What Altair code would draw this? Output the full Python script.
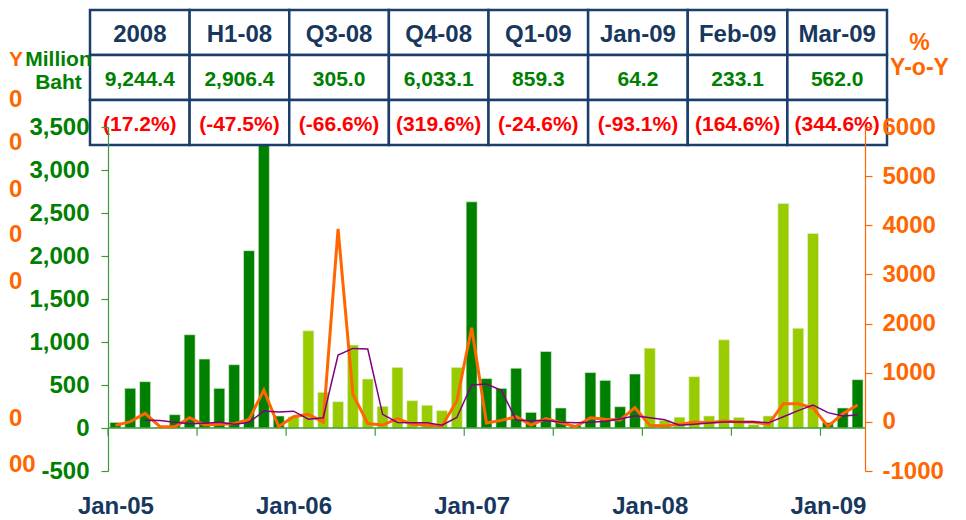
import altair as alt
import pandas as pd

# ---------------- data ----------------
years = ["2005", "2006", "2007", "2008", "2009"]
exports = [
    65, 461, 539, 8, 155, 1085, 802, 461, 736, 2062, 3330, 140,
    131, 1130, 415, 306, 965, 570, 252, 705, 318, 264, 202, 705,
    2630, 575, 461, 695, 182, 890, 233, 37, 645, 554, 248, 628,
    928, 88, 126, 597, 140, 1025, 124, 41, 140, 2610, 1160, 2263,
    64.2, 233.1, 562.0,
]
yoy = [
    -71, 4, 173, -98, -98, 85, -65, -51, -37, 51, 646, -95,
    105, 152, -4, 3927, 559, -33, -65, 65, -51, -71, -85, 423,
    1915, -25, 30, 105, -65, 65, -17, -98, 85, 51, 37, 288,
    -71, -85, -51, -4, -17, 17, -4, -4, -51, 369, 369, 288,
    -93.1, 164.6, 344.6,
]
# 3-month average line (starts Mar-05)
yoy_avg = [
    35, 26, -8, -37, -26, -10, -51, -12, 220, 200,
    218, 54, 84, 1358, 1494, 1483, 153, -11, -17, -19, -69, 89,
    751, 771, 640, 37, 23, 35, -6, -17, -10, 13, 58, 125,
    85, 44, -69, -47, -24, -1, -1, 3, -20, 105, 229, 342,
    188, 120, 139,
]
x_labels = ["Jan-05", "Jan-06", "Jan-07", "Jan-08", "Jan-09"]
tbl_headers = ["2008", "H1-08", "Q3-08", "Q4-08", "Q1-09", "Jan-09", "Feb-09", "Mar-09"]
tbl_amounts = ["9,244.4", "2,906.4", "305.0", "6,033.1", "859.3", "64.2", "233.1", "562.0"]
tbl_changes = ["(17.2%)", "(-47.5%)", "(-66.6%)", "(319.6%)", "(-24.6%)", "(-93.1%)", "(164.6%)", "(344.6%)"]
left_ticks = [-500, 0, 500, 1000, 1500, 2000, 2500, 3000, 3500]
right_ticks = [-1000, 0, 1000, 2000, 3000, 4000, 5000, 6000]

# ---------------- styles ----------------
FONT = "Liberation Sans"
DARK = "#008000"
LIGHT = "#99CC00"
ORANGE = "#FF6600"
PURPLE = "#800080"
NAVY = "#17375E"
RED = "#FF0000"
AXGREEN = "#3A9A3A"

n = len(exports)
df = pd.DataFrame({
    "i": list(range(n)),
    "value": exports,
    "yoy": yoy,
    "year": [years[k // 12] for k in range(n)],
})
df_avg = pd.DataFrame({"i": list(range(2, n)), "avg": yoy_avg})
df_bounds = pd.DataFrame({"b": list(range(0, n - 2, 6))})
df_zero = pd.DataFrame({"z": [0]})

xs = alt.Scale(domain=[0, n], nice=False, zero=False)
yl = alt.Scale(domain=[left_ticks[0], left_ticks[-1]], nice=False, zero=False)
yr = alt.Scale(domain=[right_ticks[0], right_ticks[-1]], nice=False, zero=False)

label_js = "[" + ",".join("'%s'" % s for s in x_labels) + "][floor(datum.value / 12)]"

x_axis = alt.Axis(
    values=[12 * k + 0.5 for k in range(len(x_labels))],
    labelExpr=label_js,
    domain=False, ticks=False, grid=False,
    labelFont=FONT, labelFontSize=24, labelFontWeight="bold", labelColor=NAVY,
    labelPadding=35, labelBaseline="middle", labelFlush=False, labelOverlap=False,
    title=None,
)

left_axis = alt.Axis(
    values=left_ticks,
    labelExpr="datum.value < 0 ? '-' + format(-datum.value, ',') : format(datum.value, ',')",
    grid=False, domainColor=AXGREEN, tickColor=AXGREEN, tickSize=7, domainWidth=1.2, tickWidth=1.2,
    labelFont=FONT, labelFontSize=24, labelFontWeight="bold", labelColor=DARK, labelPadding=12,
    title=["Million", "Baht"], titleAngle=0, titleX=-50, titleY=-68, titleAlign="center",
    titleBaseline="middle", titleFont=FONT, titleFontSize=21, titleFontWeight="bold",
    titleColor=DARK, titleLineHeight=23, zindex=1,
)

right_axis = alt.Axis(
    orient="right",
    values=right_ticks,
    labelExpr="datum.value < 0 ? '-' + format(-datum.value, 'd') : format(datum.value, 'd')",
    grid=False, domainColor=ORANGE, tickColor=ORANGE, tickSize=7, domainWidth=1.2, tickWidth=1.2,
    labelFont=FONT, labelFontSize=24, labelFontWeight="bold", labelColor=ORANGE, labelPadding=10,
    title=["%", "Y-o-Y"], titleAngle=0, titleX=54, titleY=-85, titleAlign="center",
    titleBaseline="middle", titleFont=FONT, titleFontSize=23, titleFontWeight="bold",
    titleColor=ORANGE, titleLineHeight=25, zindex=1,
)

bars = alt.Chart(df).transform_calculate(
    x0="datum.i + 0.13", x1="datum.i + 0.87"
).mark_bar(stroke="#E6F2D9", strokeWidth=0.6).encode(
    x=alt.X("x0:Q", scale=xs, axis=x_axis),
    x2="x1:Q",
    y=alt.Y("value:Q", scale=yl, axis=left_axis),
    y2=alt.datum(0),
    color=alt.Color("year:N", scale=alt.Scale(domain=years, range=[DARK, LIGHT, DARK, LIGHT, DARK]), legend=None),
)

zero_line = alt.Chart(df_zero).mark_rule(color=AXGREEN, strokeWidth=1.6).encode(
    y=alt.Y("z:Q", scale=yl, axis=left_axis),
)

bound_ticks = alt.Chart(df_bounds).mark_rule(color=AXGREEN, strokeWidth=1.2).encode(
    x=alt.X("b:Q", scale=xs, axis=x_axis),
    y=alt.datum(0),
    y2=alt.datum(-90),
)

left_group = alt.layer(bars, zero_line, bound_ticks)

orange = alt.Chart(df).transform_calculate(xc="datum.i + 0.5").mark_line(
    color=ORANGE, strokeWidth=3
).encode(
    x=alt.X("xc:Q", scale=xs, axis=None),
    y=alt.Y("yoy:Q", scale=yr, axis=right_axis),
)
purple = alt.Chart(df_avg).transform_calculate(xc="datum.i + 0.5").mark_line(
    color=PURPLE, strokeWidth=1.5
).encode(
    x=alt.X("xc:Q", scale=xs, axis=None),
    y=alt.Y("avg:Q", scale=yr, axis=right_axis),
)
right_group = alt.layer(orange, purple)

# ---------------- table ----------------
rows = []
for c in range(len(tbl_headers)):
    for r, src in enumerate([tbl_headers, tbl_amounts, tbl_changes]):
        rows.append({"c": c, "r": r, "label": src[c]})
tdf = pd.DataFrame(rows)
tx = alt.Scale(domain=[0, len(tbl_headers)], range=[-18, 779], nice=False, zero=False)
ty = alt.Scale(domain=[0, 3], range=[-117, 18], nice=False, zero=False)

cells = alt.Chart(tdf).transform_calculate(c1="datum.c + 1", r1="datum.r + 1").mark_rect(
    fill="white", stroke="#1B3F6B", strokeWidth=2.5
).encode(
    x=alt.X("c:Q", scale=tx, axis=None), x2="c1:Q",
    y=alt.Y("r:Q", scale=ty, axis=None), y2="r1:Q",
)

def row_text(r, color, size):
    return alt.Chart(tdf).transform_filter(f"datum.r == {r}").transform_calculate(
        cm="datum.c + 0.5", rm="datum.r + 0.5"
    ).mark_text(font=FONT, fontSize=size, fontWeight="bold", color=color, baseline="middle", dy=2).encode(
        x=alt.X("cm:Q", scale=tx, axis=None),
        y=alt.Y("rm:Q", scale=ty, axis=None),
        text="label:N",
    )

table = alt.layer(cells, row_text(0, NAVY, 24), row_text(1, DARK, 21), row_text(2, RED, 21))

# fragments of a neighbouring chart's axis visible at the far left edge
frag_specs = [("Y", 60, 21), ("0", 100, 24), ("0", 143, 24), ("0", 190, 24), ("0", 235, 24),
              ("0", 282, 24), ("0", 419, 24), ("00", 465, 24)]
frags = []
for txt, py, fs in frag_specs:
    frags.append(
        alt.Chart(df_zero).mark_text(
            text=txt, font=FONT, fontSize=fs, fontWeight="bold", color=ORANGE,
            align="left", baseline="middle",
        ).encode(x=alt.value(1 - 100), y=alt.value(py - 127))
    )

chart = alt.layer(left_group, right_group, table, *frags).resolve_scale(
    x="independent", y="independent"
).properties(
    width=757, height=344,
    padding={"left": 100, "top": 119, "right": 88, "bottom": 46},
    autosize=alt.AutoSizeParams(type="none"),
    background="white",
).configure_view(stroke=None)

chart.save("out.html", embed_options={"renderer": "svg", "actions": False})
